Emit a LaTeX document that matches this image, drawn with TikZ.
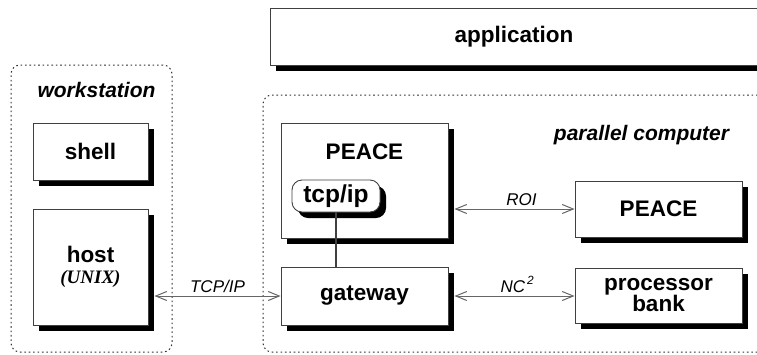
\documentclass[tikz,border=0pt]{standalone}
\usepackage{fontspec}
\setmainfont{Liberation Sans}
\newfontfamily\romanfont{Liberation Serif}
\usetikzlibrary{arrows.meta,shadows}
\tikzset{
  unit/.style={draw=black!75, line width=0.9pt, fill=white, inner sep=0pt, align=center,
    font=\fontsize{22.5}{25}\selectfont\bfseries,
    drop shadow={shadow xshift=6pt, shadow yshift=-6pt, opacity=1, fill=black}},
  frame/.style={draw=black!80, line width=1pt, dash pattern=on 1.6pt off 2.8pt,
    rounded corners=9pt, inner sep=0pt},
  title/.style={font=\fontsize{21}{24}\selectfont\bfseries\itshape, inner sep=0pt},
  link/.style={draw=black!60, line width=1pt,
    {Straight Barb[length=11pt,width=9pt]}-{Straight Barb[length=11pt,width=9pt]}},
  tag/.style={font=\fontsize{17}{20}\selectfont\itshape, inner sep=3pt}
}
\begin{document}
\begin{tikzpicture}[x=1pt, y=-1pt]
    \useasboundingbox (0, 0) rectangle (757, 354);
    \node [frame, minimum width=161, minimum height=287] (workstation) at (91.5, 208.5) {};
    \node [frame, minimum width=530, minimum height=257] (parallel) at (528, 223.5) {};
    \node [title] (worklabel) at (96.5, 90) {workstation};
    \node [title] (parlabel) at (641.5, 135) {parallel computer};
    \node [unit, minimum width=488, minimum height=57] (app) at (514, 36.5) {application};
    \node [unit, minimum width=115, minimum height=57] (shell) at (90.5, 151.5) {shell};
    \node [unit, minimum width=115, minimum height=116] (host) at (90.5, 267)
        {host\\[-4pt]{\romanfont\itshape\fontsize{19}{21}\selectfont (UNIX)}};
    \node [unit, minimum width=167, minimum height=115] (peace) at (364.5, 180.5) {};
    \node [font=\fontsize{22.5}{25}\selectfont\bfseries] (peacetitle) at (364.5, 152) {PEACE};
    \node [unit, rounded corners=10pt, minimum width=88, minimum height=32,
        font=\fontsize{24.5}{27}\selectfont\bfseries] (tcpip) at (336, 196) {tcp/ip};
    \node [unit, minimum width=167, minimum height=58] (gateway) at (364.5, 296) {gateway};
    \node [unit, minimum width=167, minimum height=56] (peacenode) at (658.5, 209) {PEACE};
    \node [unit, minimum width=167, minimum height=55] (bank) at (658.5, 295.5) {processor\\[-4pt]bank};
    \draw [draw=black!75, line width=1.2pt] (tcpip.south) -- (tcpip.south |- gateway.north);
    \draw [link] ([xshift=6pt]host.east |- gateway.west) -- node [tag, above] {TCP/IP} (gateway.west);
    \draw [link] ([xshift=6pt]peace.east |- peacenode.west) -- node [tag, above, xshift=7pt] {ROI} (peacenode.west);
    \draw [link] ([xshift=6pt]gateway.east) -- node [tag, above, xshift=3pt] {NC\raisebox{2pt}{\textsuperscript{\,2}}} (bank.west |- gateway.east);
\end{tikzpicture}
\end{document}
